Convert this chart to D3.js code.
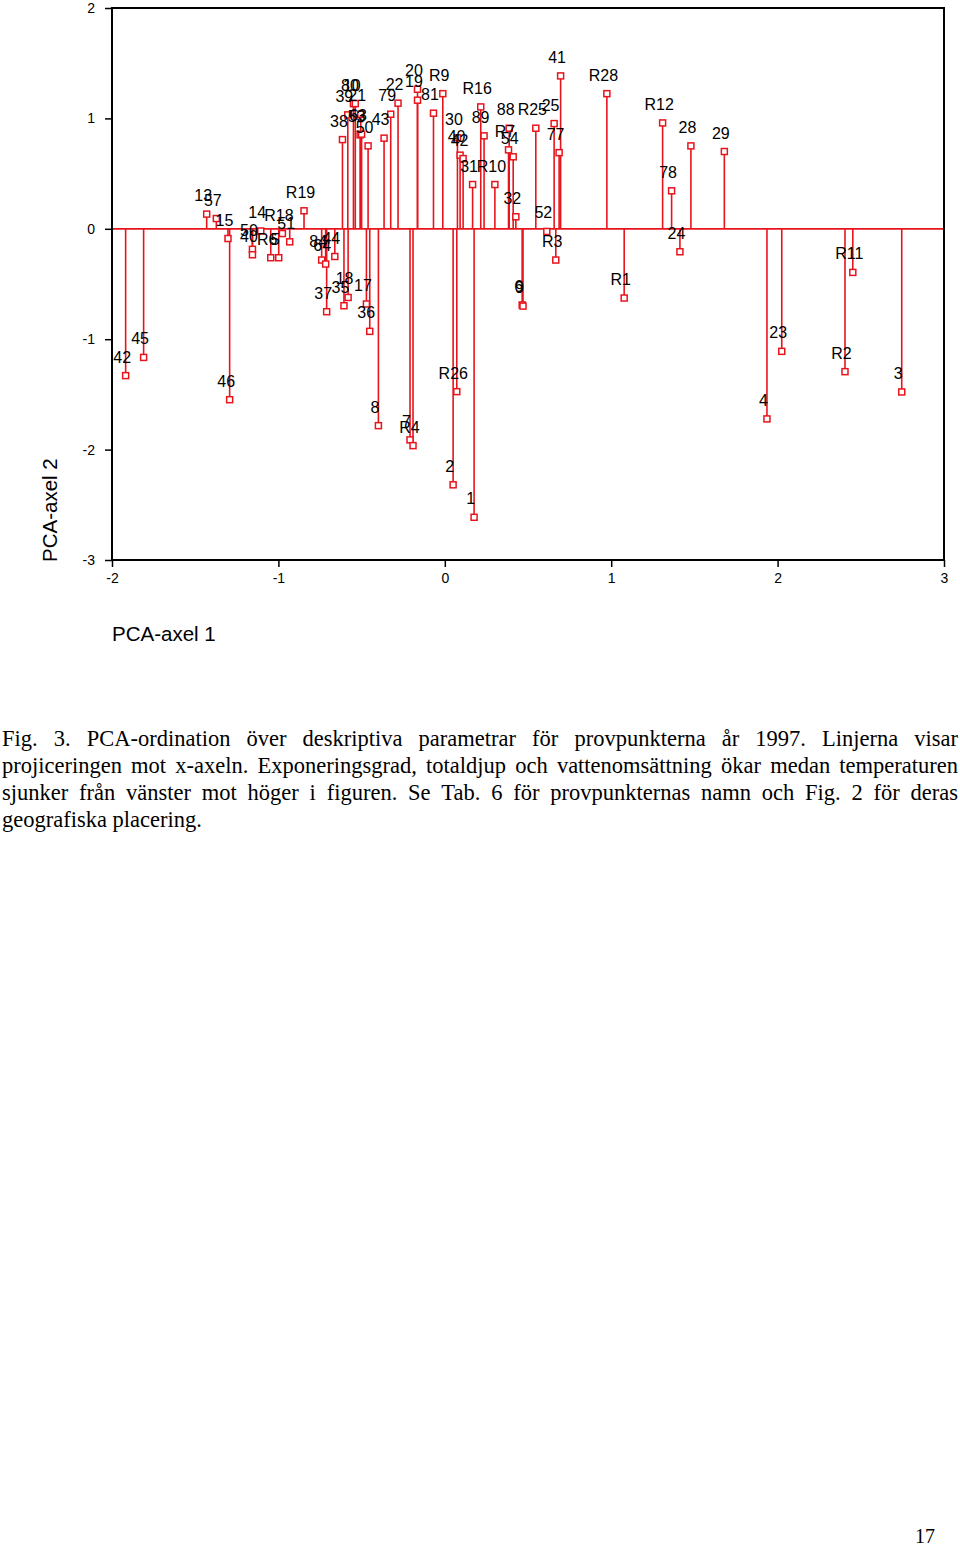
<!DOCTYPE html>
<html><head><meta charset="utf-8">
<script src="https://cdn.jsdelivr.net/npm/d3@7"></script>
<style>body{margin:0;background:#fff}svg{display:block}</style>
</head><body>
<script>
const labels = ["42","45","13","57","15","46","50","40","14","R6","5","R18","51","R19","84","64","44","37","35","18","17","36","8","7","R4","R26","2","1","6","9","R3","52","32","31","R10","40","42","30","81","R9","20","19","22","79","43","38","39","21","80","10","53","63","50","R16","89","88","R7","54","R25","25","77","41","R28","R12","28","29","78","24","R1","4","23","R11","R2","3"];
const xValues = [-1.918,-1.810,-1.431,-1.373,-1.303,-1.293,-1.156,-1.156,-1.106,-1.046,-0.998,-0.976,-0.932,-0.846,-0.740,-0.716,-0.661,-0.710,-0.606,-0.581,-0.471,-0.451,-0.399,-0.209,-0.191,0.072,0.050,0.176,0.465,0.470,0.667,0.613,0.427,0.167,0.301,0.092,0.110,0.076,-0.068,-0.012,-0.164,-0.164,-0.281,-0.325,-0.365,-0.615,-0.583,-0.505,-0.549,-0.538,-0.509,-0.500,-0.461,0.216,0.236,0.387,0.383,0.411,0.547,0.657,0.687,0.696,0.974,1.309,1.479,1.680,1.363,1.413,1.078,1.936,2.025,2.452,2.405,2.746];
const yValues = [-1.330,-1.165,0.133,0.093,-0.088,-1.548,-0.186,-0.235,-0.020,-0.262,-0.262,-0.043,-0.118,0.163,-0.283,-0.319,-0.251,-0.751,-0.697,-0.622,-0.681,-0.929,-1.783,-1.912,-1.964,-1.475,-2.319,-2.613,-0.690,-0.700,-0.283,-0.024,0.109,0.401,0.401,0.667,0.636,0.824,1.047,1.224,1.264,1.165,1.138,1.038,0.821,0.808,1.032,1.038,1.134,1.134,0.851,0.857,0.751,1.104,0.842,0.911,0.715,0.652,0.911,0.953,0.690,1.385,1.224,0.959,0.751,0.700,0.344,-0.208,-0.627,-1.722,-1.110,-0.395,-1.294,-1.478];
const xTicks = [-2,-1,0,1,2,3];
const yTicks = [-3,-2,-1,0,1,2];
const xTitle = "PCA-axel 1";
const yTitle = "PCA-axel 2";
const captionLines = [
 "Fig. 3. PCA-ordination över deskriptiva parametrar för provpunkterna år 1997. Linjerna visar",
 "projiceringen mot x-axeln. Exponeringsgrad, totaldjup och vattenomsättning ökar medan temperaturen",
 "sjunker från vänster mot höger i figuren. Se Tab. 6 för provpunkternas namn och Fig. 2 för deras",
 "geografiska placering."
];
const pageNumber = "17";

const points = labels.map((l,i)=>({label:l,x:xValues[i],y:yValues[i]}));
const W=960,H=1547;
const svg=d3.select("body").append("svg").attr("width",W).attr("height",H);
svg.append("rect").attr("width",W).attr("height",H).attr("fill","#fff");

const x=d3.scaleLinear().domain([-2,3]).range([112,944]);
const y=d3.scaleLinear().domain([-3,2]).range([560,8]);
const RED="#e8141c";

const g=svg.append("g");
g.selectAll("line.proj").data(points).join("line").attr("class","proj")
 .attr("x1",d=>x(d.x)).attr("x2",d=>x(d.x)).attr("y1",y(0)).attr("y2",d=>y(d.y))
 .attr("stroke",RED).attr("stroke-width",1.6);
g.append("line").attr("x1",x(-2)).attr("x2",x(3)).attr("y1",y(0)).attr("y2",y(0))
 .attr("stroke",RED).attr("stroke-width",1.8);
g.selectAll("rect.pt").data(points).join("rect").attr("class","pt")
 .attr("x",d=>x(d.x)-3).attr("y",d=>y(d.y)-3).attr("width",6).attr("height",6)
 .attr("fill","#fff").attr("stroke",RED).attr("stroke-width",1.5);
g.selectAll("text.lab").data(points).join("text").attr("class","lab")
 .attr("x",d=>x(d.x)-3.5).attr("y",d=>y(d.y)-13).attr("text-anchor","middle")
 .attr("font-family","Liberation Sans, Arial, sans-serif").attr("font-size",16).attr("fill","#000")
 .text(d=>d.label);

svg.append("rect").attr("x",112).attr("y",8).attr("width",832).attr("height",552)
 .attr("fill","none").attr("stroke","#000").attr("stroke-width",2);

const fmt=d=>String(d);
const ax=svg.append("g").attr("transform","translate(0,560)")
 .call(d3.axisBottom(x).tickValues(xTicks).tickFormat(fmt).tickSize(7).tickPadding(6));
const ay=svg.append("g").attr("transform","translate(112,0)")
 .call(d3.axisLeft(y).tickValues(yTicks).tickFormat(fmt).tickSize(7).tickPadding(10));
[ax,ay].forEach(a=>{
 a.select(".domain").remove();
 a.selectAll("line").attr("stroke","#000").attr("stroke-width",1.5);
 a.selectAll("text").attr("font-family","Liberation Sans, Arial, sans-serif").attr("font-size",14).attr("fill","#000");
});

svg.append("text").attr("x",112).attr("y",641).attr("font-family","Liberation Sans, Arial, sans-serif")
 .attr("font-size",20.5).text(xTitle);
svg.append("text").attr("transform","translate(57,562) rotate(-90)").attr("font-family","Liberation Sans, Arial, sans-serif")
 .attr("font-size",20.5).text(yTitle);

const capFont="Liberation Serif, Times New Roman, serif";
const capSize=22.5;
const base0=746, lh=27, left=2, right=958;
captionLines.forEach((line,li)=>{
 const words=line.split(" ");
 const nodes=words.map(w=>svg.append("text").attr("font-family",capFont).attr("font-size",capSize).attr("y",base0+li*lh).text(w));
 const widths=nodes.map(n=>n.node().getComputedTextLength());
 const total=d3.sum(widths);
 const justify = li<captionLines.length-1;
 const sp = justify ? (right-left-total)/(words.length-1) : capSize*0.25;
 let cx=left;
 nodes.forEach((n,i)=>{n.attr("x",cx); cx+=widths[i]+sp;});
});
svg.append("text").attr("x",935).attr("y",1543).attr("text-anchor","end").attr("font-family",capFont)
 .attr("font-size",20).text(pageNumber);
</script>
</body></html>
